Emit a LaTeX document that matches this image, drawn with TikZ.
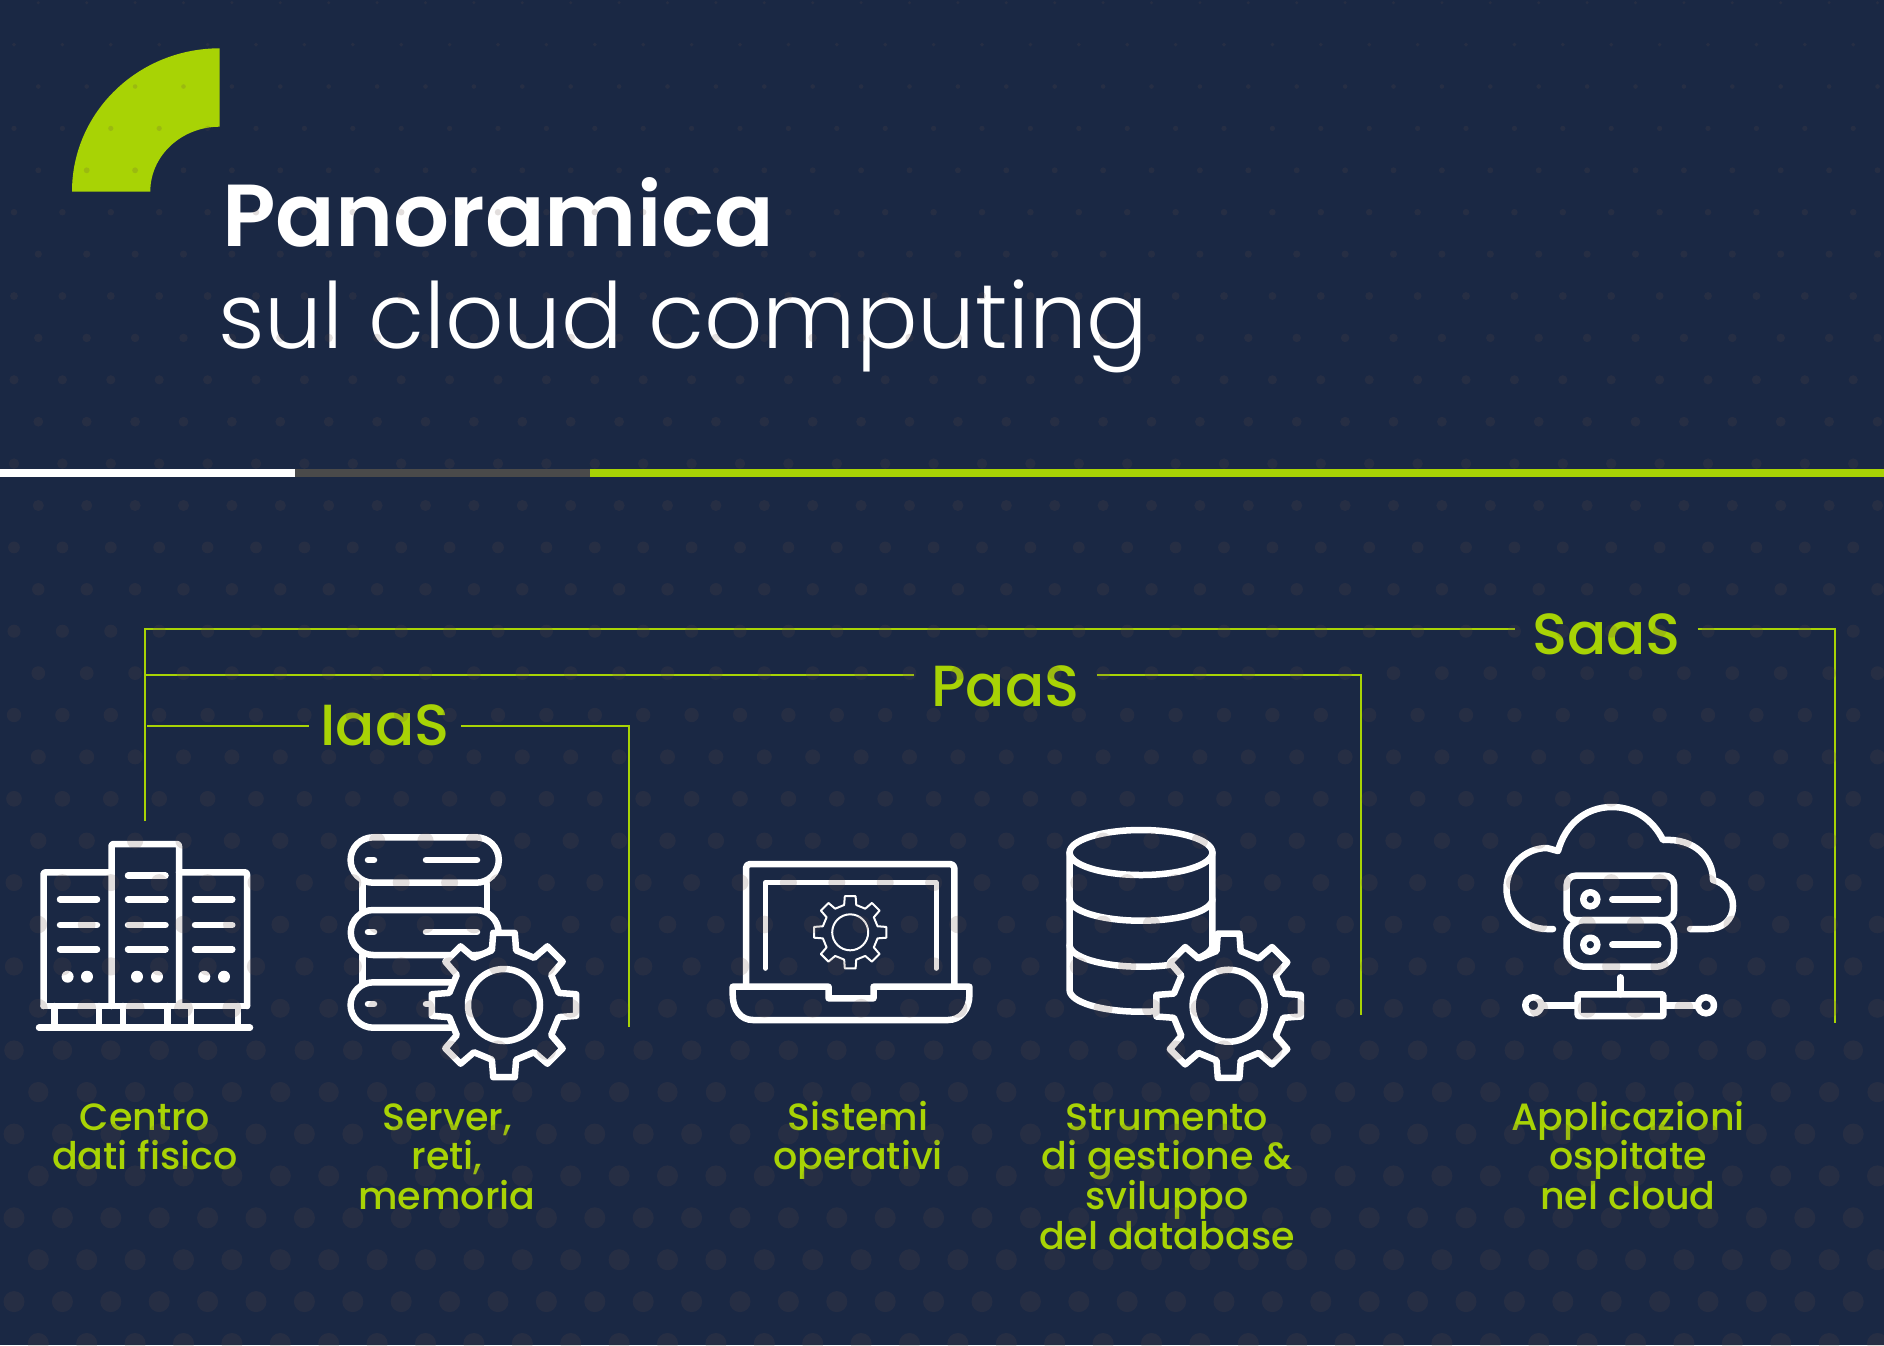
\documentclass[tikz,border=0pt]{standalone}
\usepackage{fontspec}
\setmainfont{Poppins}
\newfontfamily\titlebold{Poppins SemiBold}
\newfontfamily\titlelight{Poppins Light}
\newfontfamily\labelfont{Poppins Medium}
\definecolor{navy}{HTML}{1A2844}
\definecolor{lime}{HTML}{A8D305}
\definecolor{rulegray}{HTML}{4A4A4A}
\definecolor{dotgray}{HTML}{604A44}
\newcommand{\capstrut}{\rule{0pt}{30pt}}
\tikzset{
  icon/.style={draw=white,line width=6.5pt,line join=round,line cap=round},
  bracket/.style={draw=lime,line width=2pt},
  tierlabel/.style={text=lime,font=\labelfont\fontsize{58}{60}\selectfont,anchor=base,inner xsep=0pt,inner ysep=0pt},
  caption/.style={text=lime,font=\labelfont\fontsize{38}{39.6}\selectfont,align=center,anchor=north,inner sep=0pt},
  gearicon/.pic={
    \path[icon,fill=navy,line width=6.5pt]
      (-12.5:56) \foreach \a in {0,45,...,315} {
        -- (\a-12.5:56) -- (\a-8.5:73) -- (\a+8.5:73) -- (\a+12.5:56) } -- cycle;
    \path[icon,line width=6.5pt] (0,0) circle[radius=36];
  }
}
\begin{document}
\begin{tikzpicture}[x=1pt,y=-1pt]
\useasboundingbox (0,0) rectangle (1884,1345);
\fill[navy] (0,0) rectangle (1884,1345);

% corner mark
\fill[lime] (72,191.5) arc[start angle=180,end angle=270,x radius=147.7,y radius=143.2]
  -- (219.7,126.7) arc[start angle=270,end angle=180,x radius=69.4,y radius=64.8] -- cycle;

% title
\node[anchor=base west,inner sep=0pt,text=white,font=\titlebold\fontsize{88}{100}\selectfont] (title1) at (222,246) {Panoramica};
\node[anchor=base west,inner sep=0pt,text=white,font=\titlelight\fontsize{91.3}{100}\selectfont] (title2) at (218,348) {sul cloud computing};

% rule
\fill[white] (0,468.5) rectangle (295,477);
\fill[rulegray] (295,468.5) rectangle (590,477);
\fill[lime] (590,468.5) rectangle (1884,477);

% tier labels
\node[tierlabel,minimum width=182pt] (saas) at (1606.5,654) {SaaS};
\node[tierlabel,minimum width=183pt] (paas) at (1005.5,706) {PaaS};
\node[tierlabel,minimum width=152pt] (iaas) at (385,745) {IaaS};

\coordinate (sb) at (145,821);
\coordinate (sl) at (145,628.5);
\coordinate (sr) at (1835,628.5);
\coordinate (se) at (1835,1023);
\coordinate (pl) at (145,674.5);
\coordinate (pr) at (1361,674.5);
\coordinate (pe) at (1361,1015);
\coordinate (il) at (147,725.5);
\coordinate (ir) at (628.5,725.5);
\coordinate (ie) at (628.5,1027);
\draw[bracket] (sb) -- (sl) -- (saas.west |- sl);
\draw[bracket] (saas.east |- sr) -- (sr) -- (se);
\draw[bracket] (pl) -- (paas.west |- pl);
\draw[bracket] (paas.east |- pr) -- (pr) -- (pe);
\draw[bracket] (il) -- (iaas.west |- il);
\draw[bracket] (iaas.east |- ir) -- (ir) -- (ie);

% data centre icon
\draw[icon,rounded corners=2pt] (43.5,1006) -- (43.5,872.3) -- (111.5,872.3);
\draw[icon,rounded corners=2pt] (111.5,1006) -- (111.5,844) -- (179,844) -- (179,1006);
\draw[icon,rounded corners=2pt] (179,872.3) -- (247,872.3) -- (247,1006);
\draw[icon] (43.5,1006) -- (247,1006);
\draw[icon] (39,1027.7) -- (250,1027.7);
\foreach \x in {54.5,98.8,123,167.6,191,238} \draw[icon] (\x,1006) -- (\x,1027.7);
\foreach \y in {899.3,925,949.3} {
  \draw[icon] (60,\y) -- (97,\y);
  \draw[icon] (128,\y) -- (165.5,\y);
  \draw[icon] (195,\y) -- (232.3,\y);
}
\draw[icon] (128,875.7) -- (165.5,875.7);
\foreach \x in {67.6,87,137,157,204.3,224} \fill[white] (\x,976.7) circle[radius=6];

% server icon
\draw[icon] (373.3,837.3) -- (476.1,837.3) arc[start angle=-90,end angle=90,radius=22.7] -- (373.3,882.7) arc[start angle=90,end angle=270,radius=22.7];
\draw[icon] (368,860) -- (374,860) (426,860) -- (477,860);
\draw[icon] (362.5,883) -- (362.5,910) (487,883) -- (487,910);
\draw[icon] (373.3,910) -- (476.1,910) arc[start angle=-90,end angle=90,radius=22.5] -- (373.3,955) arc[start angle=90,end angle=270,radius=22.5];
\draw[icon] (368,932) -- (374,932) (426,932) -- (477,932);
\draw[icon] (362.5,955) -- (362.5,982.3);
\draw[icon] (373.3,982.3) -- (476.1,982.3) -- (476.1,1027.7) -- (373.3,1027.7) arc[start angle=90,end angle=270,radius=22.7];
\draw[icon] (368,1004) -- (374,1004) (426,1004) -- (440,1004);
\pic at (504,1005) {gearicon};

% laptop icon
\draw[icon,rounded corners=4pt] (746,985) -- (746,864) -- (954.3,864) -- (954.3,985);
\draw[icon,line width=5pt] (765.3,968.3) -- (765.3,882.3) -- (936,882.3) -- (936,968.3);
\draw[icon] (732.7,986.7) -- (828.6,986.7) -- (828.6,998.3) -- (873.5,998.3) -- (873.5,986.7) -- (969.4,986.7)
  -- (969.4,995) .. controls (969.4,1010) and (960,1020) .. (948,1020) -- (753,1020)
  .. controls (741,1020) and (732.7,1010) .. (732.7,995) -- cycle;
\begin{scope}[shift={(850.2,932.3)}]
  \path[icon,line width=2pt]
    (-12.5:28) \foreach \a in {0,45,...,315} {
      -- (\a-12.5:28) -- (\a-8.5:36.5) -- (\a+8.5:36.5) -- (\a+12.5:28) } -- cycle;
  \path[icon,line width=2pt] (0,0) circle[radius=18];
\end{scope}

% database icon
\draw[icon] (1141,852.5) circle[x radius=71.4,y radius=22.5];
\draw[icon] (1069.6,852.5) -- (1069.6,990) arc[start angle=180,end angle=0,x radius=71.4,y radius=21.7] -- (1212.4,852.5);
\draw[icon] (1069.6,899) arc[start angle=180,end angle=0,x radius=71.4,y radius=21.7];
\draw[icon] (1069.6,945) arc[start angle=180,end angle=0,x radius=71.4,y radius=21.7];
\pic at (1228.6,1005.7) {gearicon};

% cloud icon
\draw[icon] (1553,929) -- (1547,929) arc[start angle=90,end angle=270,radius=40.5] -- (1558,851)
  .. controls (1565,825) and (1585,807) .. (1612,807)
  .. controls (1635,807) and (1653,820) .. (1663,840)
  .. controls (1695,838) and (1713,858) .. (1713,880)
  .. controls (1725,883) and (1733,893) .. (1733,906)
  .. controls (1733,920) and (1722,929) .. (1708,929) -- (1690,929);
\draw[icon,rounded corners=9pt] (1566.7,875.7) rectangle (1674,920);
\draw[icon,rounded corners=18pt] (1566.7,920) rectangle (1674,966.7);
\draw[icon] (1590.3,899.3) circle[radius=7] (1590.3,944.7) circle[radius=7];
\draw[icon] (1612.3,899.3) -- (1658.3,899.3) (1612.3,944.7) -- (1658.3,944.7);
\draw[icon] (1620.3,977.3) -- (1620.3,994.3);
\draw[icon,rounded corners=1pt] (1577.7,994.3) rectangle (1663.3,1016);
\draw[icon] (1544,1005.3) -- (1577.7,1005.3) (1663.3,1005.3) -- (1695,1005.3);
\draw[icon] (1533.3,1005.3) circle[radius=8] (1706,1005.3) circle[radius=8];

% captions
\node[caption] (c1) at (145,1100) {\capstrut Centro\\dati fisico};
\node[caption] (c2) at (447,1100) {\capstrut Server,\\reti,\\memoria};
\node[caption] (c3) at (858,1100) {\capstrut Sistemi\\operativi};
\node[caption] (c4) at (1167,1100) {\capstrut Strumento\\di gestione \&\\sviluppo\\del database};
\node[caption] (c5) at (1628,1100) {\capstrut Applicazioni\\ospitate\\nel cloud};

% dot screen
\begin{scope}
\clip (0,0) rectangle (1884,1345);
\fill[dotgray,opacity=0.18]
  \foreach \k in {0,...,32} {
    \pgfextra{\pgfmathsetmacro{\ry}{2.7+41.9*\k}\pgfmathsetmacro{\rr}{min(1.6+0.0078*\ry,10.5)}\pgfmathsetmacro{\ox}{mod(\k,2)==0 ? 38.3 : 14}}
    \foreach \j in {0,...,38} {
      (\ox+48.4*\j,\ry) circle[radius=\rr]
    }
  };
\end{scope}
\end{tikzpicture}
\end{document}
